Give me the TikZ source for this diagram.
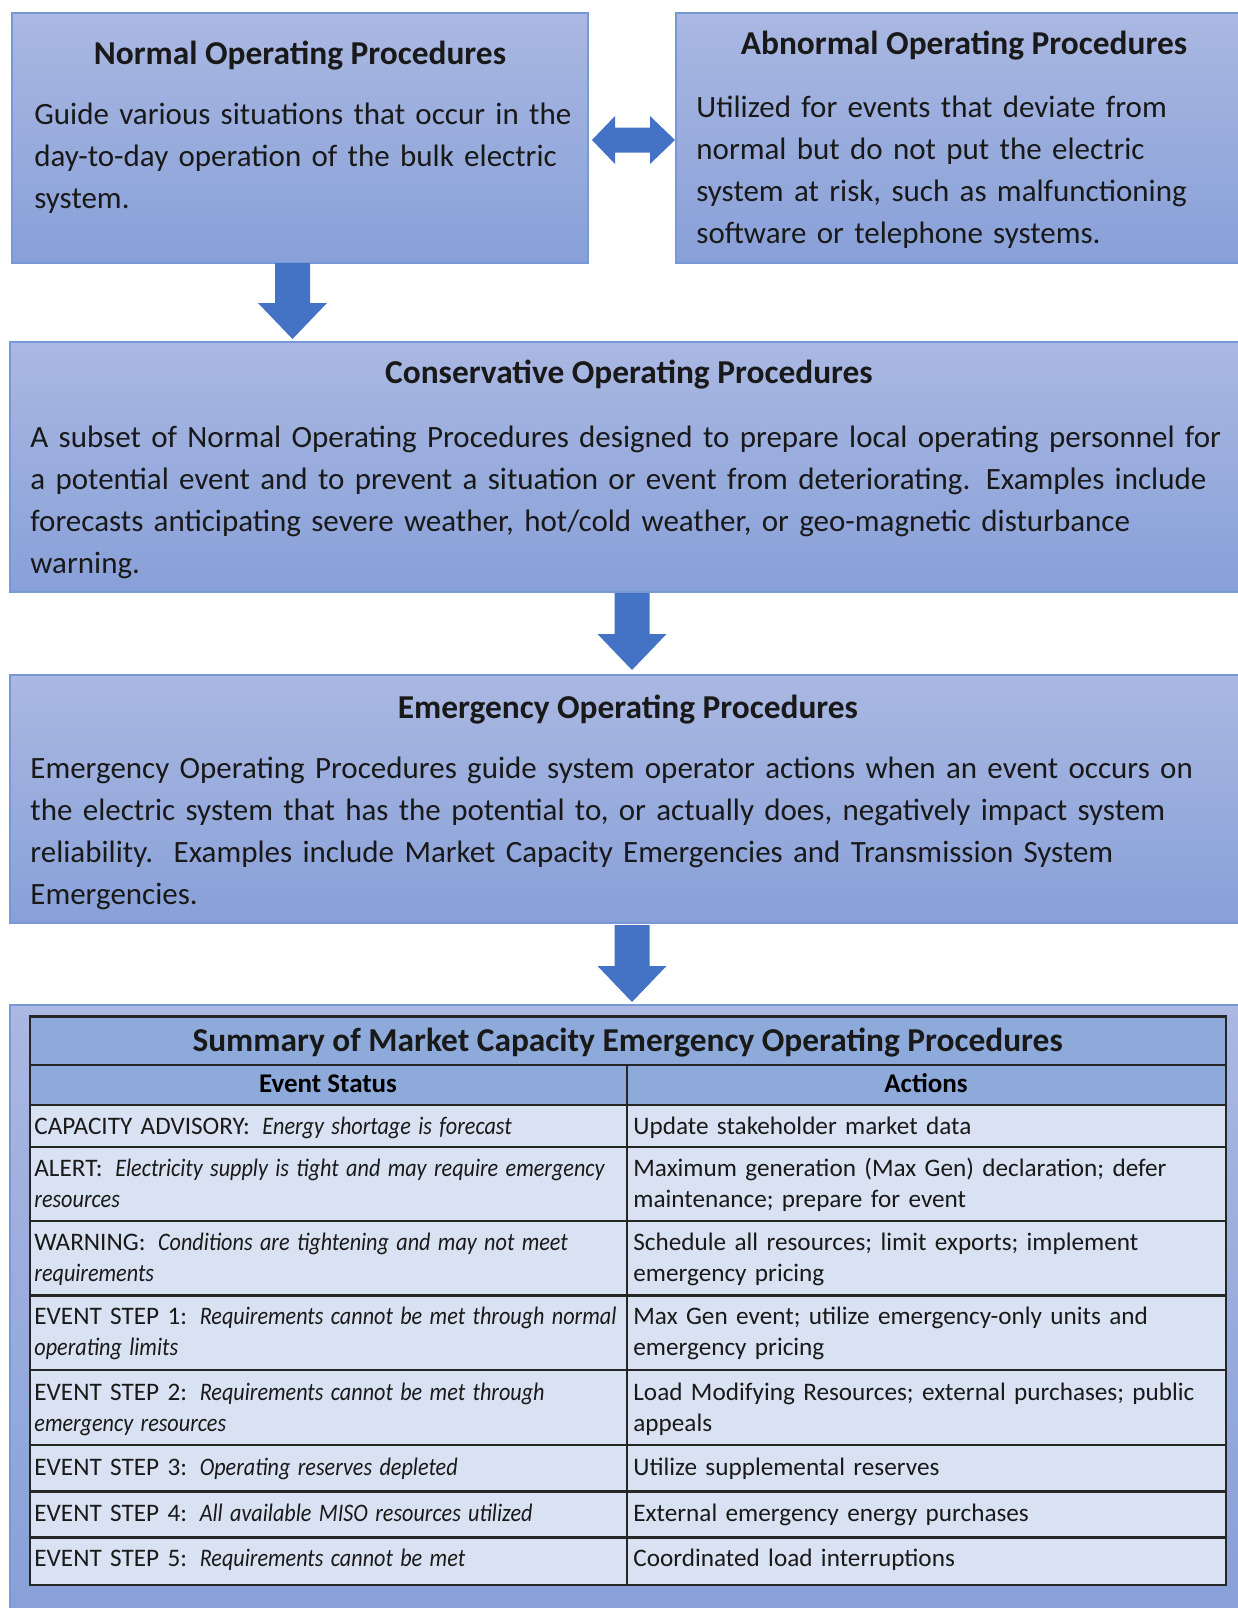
\documentclass[tikz,border=0pt]{standalone}
\usepackage{fontspec}
\setmainfont{Carlito}
\usetikzlibrary{calc}
\definecolor{boxtop}{RGB}{170,184,226}
\definecolor{boxbot}{RGB}{136,160,216}
\definecolor{boxline}{RGB}{120,152,216}
\definecolor{arrowblue}{RGB}{68,114,196}
\definecolor{hdrfill}{RGB}{142,170,219}
\definecolor{rowfill}{RGB}{217,226,243}
\definecolor{txt}{RGB}{25,25,25}
\newcommand\blockdown[2]{%
  \fill[arrowblue] ($(#1)+(-17.5,0)$) -- ($(#1)+(17.5,0)$) -- ($(#2)+(17.5,-36)$)
   -- ($(#2)+(34.5,-36)$) -- (#2) -- ($(#2)+(-34.5,-36)$) -- ($(#2)+(-17.5,-36)$) -- cycle;}
\newcommand\ci[1]{\scalebox{0.88}[1]{\itshape #1}}
\newcommand\gap{\hspace{0.5em}}
\begin{document}
\begin{tikzpicture}[x=0.5pt,y=-0.5pt,
  procbox/.style={draw=boxline, line width=1pt, top color=boxtop, bottom color=boxbot, inner sep=0pt},
  boxtitle/.style={anchor=base, inner sep=0pt, text=txt, font=\fontsize{16.7}{20}\selectfont\bfseries},
  boxbody/.style={anchor=base west, inner sep=0pt, text=txt, align=left, text width=#1, font=\fontsize{15.5}{21}\selectfont},
  tline/.style={draw=black!85, line width=1.1pt},
  cell/.style={anchor=base west, inner sep=0pt, text=txt, align=left, text width=310pt, font=\fontsize{12.6}{15.5}\selectfont},
  hcell/.style={anchor=base, inner sep=0pt, text=black, font=\fontsize{13.5}{16}\selectfont\bfseries}]
\useasboundingbox (0,0) rectangle (1238,1608);

% boxes
\node[procbox, minimum width=288pt, minimum height=125pt] (normal) at (300,138) {};
\node[procbox, minimum width=284.5pt, minimum height=125pt] (abn) at (960.5,138) {};
\node[procbox, minimum width=617.5pt, minimum height=125pt] (cons) at (627.5,467) {};
\node[procbox, minimum width=617.5pt, minimum height=124pt] (emer) at (627.5,799) {};
\node[procbox, minimum width=617.5pt, minimum height=305pt] (cont) at (627.5,1310) {};

% titles and texts
\node[boxtitle] (normalT) at (300,64) {Normal Operating Procedures};
\node[boxbody=290pt] (normalB) at (34,124) {Guide various situations that occur in the\\day-to-day operation of the bulk electric\\system.};
\node[boxtitle] (abnT) at (964,54) {Abnormal Operating Procedures};
\node[boxbody=290pt] (abnB) at (696,117) {Utilized for events that deviate from\\normal but do not put the electric\\system at risk, such as malfunctioning\\software or telephone systems.};
\node[boxtitle] (consT) at (629,383) {Conservative Operating Procedures};
\node[boxbody=615pt] (consB) at (30,447) {A subset of Normal Operating Procedures designed to prepare local operating personnel for\\a potential event and to prevent a situation or event from deteriorating. Examples include\\forecasts anticipating severe weather, hot/cold weather, or geo-magnetic disturbance\\warning.};
\node[boxtitle] (emerT) at (628,718) {Emergency Operating Procedures};
\node[boxbody=615pt] (emerB) at (30,778) {Emergency Operating Procedures guide system operator actions when an event occurs on\\the electric system that has the potential to, or actually does, negatively impact system\\reliability.\ \ Examples include Market Capacity Emergencies and Transmission System\\Emergencies.};

% arrows
\coordinate (a1s) at (292.5,263);
\coordinate (a1e) at (292.5,339);
\blockdown{a1s}{a1e}
\coordinate (a2s) at (632,593);
\coordinate (a2e) at (632,670);
\blockdown{a2s}{a2e}
\coordinate (a3s) at (632,925);
\coordinate (a3e) at (632,1002);
\blockdown{a3s}{a3e}
\coordinate (dl) at (592,140);
\coordinate (dr) at (675,140);
\fill[arrowblue] (dl) -- ($(dl)+(23,-24)$) -- ($(dl)+(23,-12.5)$) -- ($(dr)+(-25,-12.5)$) -- ($(dr)+(-25,-24)$)
  -- (dr) -- ($(dr)+(-25,24)$) -- ($(dr)+(-25,12.5)$) -- ($(dl)+(23,12.5)$) -- ($(dl)+(23,24)$) -- cycle;

% table
\fill[hdrfill] (29.7,1016.5) rectangle (1225.7,1104.7);
\fill[rowfill] (29.7,1104.7) rectangle (1225.7,1584.7);
\draw[tline] (29.7,1016.5) rectangle (1225.7,1584.7);
\foreach \yy in {1064.7,1104.7,1146.7,1220.6,1295.4,1370.3,1445.2,1491.4,1537.5}
  \draw[tline] (29.7,\yy) -- (1225.7,\yy);
\draw[tline] (626.7,1064.7) -- (626.7,1584.7);

\node[boxtitle] (tabT) at (627.7,1051) {Summary of Market Capacity Emergency Operating Procedures};
\node[hcell] (h1) at (328,1092) {Event Status};
\node[hcell] (h2) at (926,1092) {Actions};

\node[cell] (r1a) at (34,1134) {CAPACITY ADVISORY:\gap\ci{Energy shortage is forecast}};
\node[cell] (r1b) at (633,1134) {Update stakeholder market data};
\node[cell] (r2a) at (34,1176) {ALERT:\gap\ci{Electricity supply is tight and may require emergency}\\\ci{resources}};
\node[cell] (r2b) at (633,1176) {Maximum generation (Max Gen) declaration; defer\\maintenance; prepare for event};
\node[cell] (r3a) at (34,1250) {WARNING:\gap\ci{Conditions are tightening and may not meet}\\\ci{requirements}};
\node[cell] (r3b) at (633,1250) {Schedule all resources; limit exports; implement\\emergency pricing};
\node[cell] (r4a) at (34,1324) {EVENT STEP 1:\gap\ci{Requirements cannot be met through normal}\\\ci{operating limits}};
\node[cell] (r4b) at (633,1324) {Max Gen event; utilize emergency-only units and\\emergency pricing};
\node[cell] (r5a) at (34,1400) {EVENT STEP 2:\gap\ci{Requirements cannot be met through}\\\ci{emergency resources}};
\node[cell] (r5b) at (633,1400) {Load Modifying Resources; external purchases; public\\appeals};
\node[cell] (r6a) at (34,1475) {EVENT STEP 3:\gap\ci{Operating reserves depleted}};
\node[cell] (r6b) at (633,1475) {Utilize supplemental reserves};
\node[cell] (r7a) at (34,1521) {EVENT STEP 4:\gap\ci{All available MISO resources utilized}};
\node[cell] (r7b) at (633,1521) {External emergency energy purchases};
\node[cell] (r8a) at (34,1566) {EVENT STEP 5:\gap\ci{Requirements cannot be met}};
\node[cell] (r8b) at (633,1566) {Coordinated load interruptions};
\end{tikzpicture}
\end{document}
